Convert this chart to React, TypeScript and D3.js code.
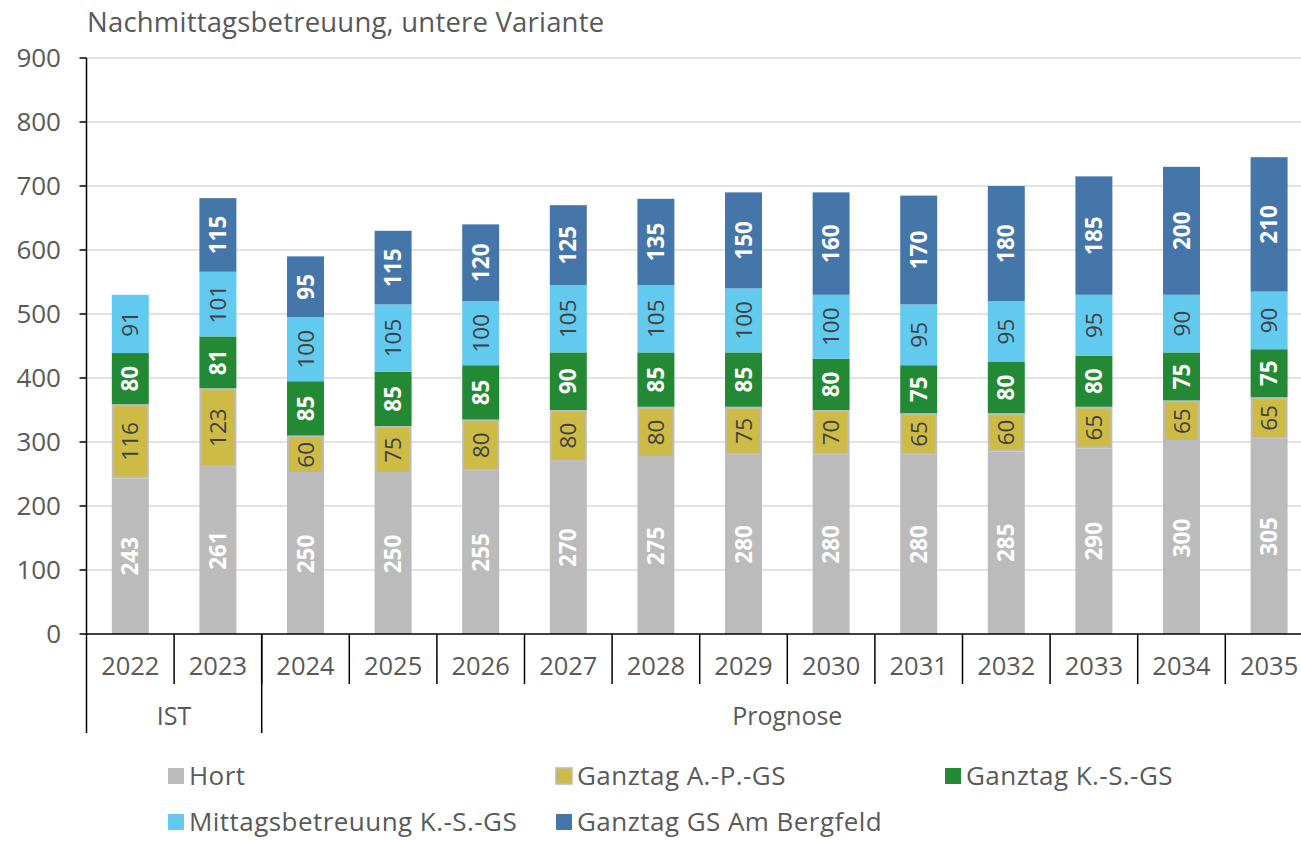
import React from "react";
import * as d3 from "d3";

const years = ["2022","2023","2024","2025","2026","2027","2028","2029","2030","2031","2032","2033","2034","2035"];
const hort = [243,261,250,250,255,270,275,280,280,280,285,290,300,305];
const ganztagAP = [116,123,60,75,80,80,80,75,70,65,60,65,65,65];
const ganztagKS = [80,81,85,85,85,90,85,85,80,75,80,80,75,75];
const mittagsKS = [91,101,100,105,100,105,105,100,100,95,95,95,90,90];
const bergfeld = [0,115,95,115,120,125,135,150,160,170,180,185,200,210];
const yTicks = [0,100,200,300,400,500,600,700,800,900];
const groups = [{ label: "IST", from: 0, to: 1 }, { label: "Prognose", from: 2, to: 13 }];

const seriesDefs = [
  { name: "Hort", values: hort, color: "#BBBBBB", stroke: "none", text: "#FFFFFF", bold: true },
  { name: "Ganztag A.-P.-GS", values: ganztagAP, color: "#CDBB46", stroke: "#BBBBBB", text: "#404040", bold: false },
  { name: "Ganztag K.-S.-GS", values: ganztagKS, color: "#238935", stroke: "none", text: "#FFFFFF", bold: true },
  { name: "Mittagsbetreuung K.-S.-GS", values: mittagsKS, color: "#62CAEE", stroke: "none", text: "#404040", bold: false },
  { name: "Ganztag GS Am Bergfeld", values: bergfeld, color: "#4476AA", stroke: "none", text: "#FFFFFF", bold: true },
];

const legendLayout = [
  { idx: 0, x: 168, y: 776 },
  { idx: 1, x: 556, y: 776 },
  { idx: 2, x: 945, y: 776 },
  { idx: 3, x: 168, y: 822 },
  { idx: 4, x: 556, y: 822 },
];

const W = 1301, H = 841;
const left = 86.5, right = 86.5 + 14 * 87.6, top = 58, bottom = 634;
const FONT = "'Open Sans', 'Noto Sans', sans-serif";
const TXT = "#595959";

export default function App() {
  const x = d3.scaleBand<string>().domain(years).range([left, right]).paddingInner(0.578).paddingOuter(0.289);
  const y = d3.scaleLinear().domain([0, 900]).range([bottom, top]);

  const table = years.map((yr, i) => {
    const row: any = { year: yr };
    seriesDefs.forEach((s) => (row[s.name] = s.values[i]));
    return row;
  });
  const stack = d3.stack<any>().keys(seriesDefs.map((s) => s.name))(table);
  const step = x.step();

  return (
    <svg width={W} height={H} style={{ position: "absolute", left: 0, top: 0, background: "#fff" }} fontFamily={FONT}>
      <text x={87} y={32} fontSize={27.5} letterSpacing={0.2} fill={TXT}>Nachmittagsbetreuung, untere Variante</text>
      {yTicks.filter((t) => t > 0).map((t) => (
        <line key={"g" + t} x1={left} x2={W} y1={y(t)} y2={y(t)} stroke="#D9D9D9" strokeWidth={1.5} />
      ))}
      {yTicks.map((t) => (
        <g key={"t" + t}>
          <line x1={79.5} x2={left} y1={y(t)} y2={y(t)} stroke="#000" strokeWidth={1.5} />
          <text x={61} y={y(t)} dy="0.35em" textAnchor="end" fontSize={26} fill={TXT}>{t}</text>
        </g>
      ))}
      {stack.map((layer, si) => {
        const s = seriesDefs[si];
        return (
          <g key={s.name}>
            {layer.map((d, i) => {
              const v = d[1] - d[0];
              if (v <= 0) return null;
              const bx = x(years[i])!;
              const bw = x.bandwidth();
              const y0 = y(d[0]), y1 = y(d[1]);
              const sw = s.stroke === "none" ? 0 : 2;
              return (
                <rect key={i} x={bx + sw / 2} y={y1 + sw / 2} width={bw - sw} height={y0 - y1 - sw}
                  fill={s.color} stroke={s.stroke} strokeWidth={sw} />
              );
            })}
          </g>
        );
      })}
      {stack.map((layer, si) => {
        const s = seriesDefs[si];
        return (
          <g key={"l" + s.name}>
            {layer.map((d, i) => {
              const v = d[1] - d[0];
              if (v <= 0) return null;
              const cx = x(years[i])! + x.bandwidth() / 2;
              const cy = (y(d[0]) + y(d[1])) / 2;
              return (
                <text key={i} transform={`translate(${cx},${cy}) rotate(-90)`} textAnchor="middle" dy="0.36em"
                  fontSize={22.5} fontWeight={s.bold ? 700 : 400} fill={s.text}>{v}</text>
              );
            })}
          </g>
        );
      })}
      <line x1={left} x2={W} y1={bottom} y2={bottom} stroke="#000" strokeWidth={1.5} />
      <line x1={left} x2={left} y1={top} y2={bottom} stroke="#000" strokeWidth={1.5} />
      {years.map((yr, i) => (
        <g key={"x" + yr}>
          <text x={x(yr)! + x.bandwidth() / 2} y={675} textAnchor="middle" fontSize={25.5} fill={TXT}>{yr}</text>
          {i > 0 && <line x1={left + i * step} x2={left + i * step} y1={bottom} y2={684} stroke="#000" strokeWidth={1.5} />}
        </g>
      ))}
      {groups.map((g) => {
        const gx0 = left + g.from * step;
        const gx1 = left + (g.to + 1) * step;
        return (
          <g key={g.label}>
            <line x1={gx0} x2={gx0} y1={bottom} y2={733} stroke="#000" strokeWidth={1.5} />
            <text x={(gx0 + gx1) / 2} y={725} textAnchor="middle" fontSize={25} fill={TXT}>{g.label}</text>
          </g>
        );
      })}
      {legendLayout.map((l) => {
        const s = seriesDefs[l.idx];
        return (
          <g key={"lg" + s.name}>
            <rect x={l.x} y={l.y - 8} width={16} height={16} fill={s.color}
              stroke={s.stroke === "none" ? "none" : s.stroke} strokeWidth={1.5} />
            <text x={l.x + 21} y={l.y} dy="0.35em" fontSize={26} letterSpacing={0.45} fill={TXT}>{s.name}</text>
          </g>
        );
      })}
    </svg>
  );
}
